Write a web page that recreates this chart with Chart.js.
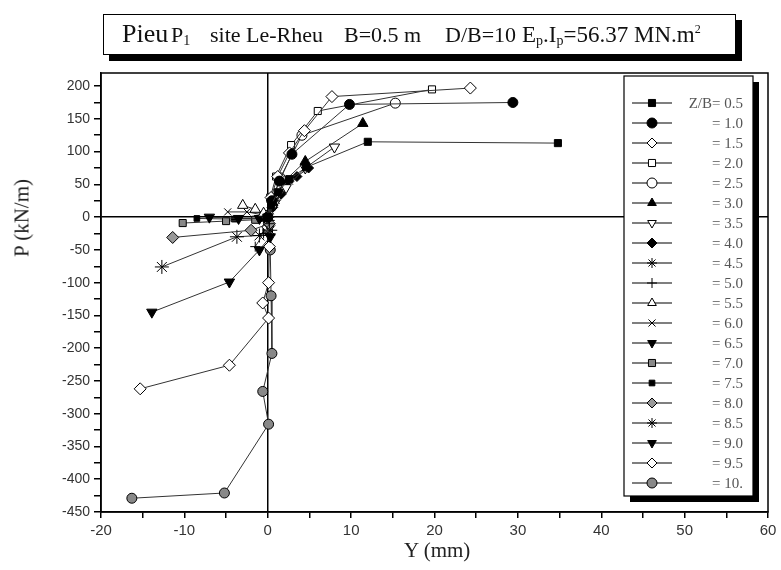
<!DOCTYPE html>
<html>
<head>
<meta charset="utf-8">
<script src="https://cdn.jsdelivr.net/npm/chart.js@4.4.0/dist/chart.umd.min.js"></script>
<style>
  html, body { margin: 0; padding: 0; background: #fff; }
  #wrap { position: relative; width: 781px; height: 570px; }
  #title {
    position: absolute; left: 103px; top: 14px; width: 633px; height: 41px;
    border: 1.5px solid #000; background: #fff; box-shadow: 6px 6px 0 #000;
    font-family: "Liberation Serif", "DejaVu Serif", serif; font-size: 22px; color: #111;
    white-space: nowrap; box-sizing: border-box;
  }
  #title span { position: absolute; top: 0; line-height: 40px; }
  #title .big { font-size: 26px; top: -1px; }
  #title sub { font-size: 14px; vertical-align: -3px; line-height: 0; }
  #title sup { font-size: 12px; vertical-align: 9px; line-height: 0; }
  .axt { position: absolute; font-family: "Liberation Serif", "DejaVu Serif", serif; font-size: 21px; color: #222; white-space: nowrap; }
  #xt { left: 404px; top: 538px; }
  #yt { left: 22px; top: 218px; transform: translate(-50%, -50%) rotate(-90deg); }
</style>
</head>
<body>
<div id="wrap">
  <canvas id="c" width="781" height="570"></canvas>
  <div id="title"><span class="big" style="left:18px">Pieu</span><span style="left:67px">P<sub>1</sub></span><span style="left:106px">site Le-Rheu</span><span style="left:240px">B=0.5 m</span><span style="left:341px">D/B=10</span><span style="left:418px; font-size:23px">E<sub>p</sub>.I<sub>p</sub>=56.37 MN.m<sup>2</sup></span></div>
  <div class="axt" id="xt">Y (mm)</div>
  <div class="axt" id="yt">P (kN/m)</div>
</div>
<script>
// [Y (mm), P (kN/m)] pairs, one list per depth Z/B
const zb05 = [[0, 0], [0.4, 18], [1.2, 38], [2.6, 58], [4.6, 76], [12.0, 115], [34.8, 113]];
const zb10 = [[0, 0], [0.5, 25], [1.4, 55], [2.9, 96], [9.8, 172], [29.4, 175]];
const zb15 = [[0, 0], [0.4, 30], [1.2, 62], [2.6, 98], [4.4, 132], [7.7, 184], [24.3, 197]];
const zb20 = [[0, 0], [0.3, 30], [1.0, 62], [2.8, 110], [6.0, 162], [19.7, 195]];
const zb25 = [[0, 0], [0.5, 25], [1.5, 60], [4.1, 125], [15.3, 174]];
const zb30 = [[0, 0], [0.6, 22], [2.0, 55], [4.5, 85], [11.4, 143]];
const zb35 = [[0, 0], [0.8, 20], [2.2, 45], [4.5, 75], [8.0, 107]];
const zb40 = [[0, 0], [0.6, 15], [1.6, 35], [3.5, 62], [4.9, 75]];
const zb45 = [[0, 0], [0.3, 10], [1.0, 26], [2.0, 45], [2.6, 55]];
const zb50 = [[0, 0], [0.2, -10], [-0.5, -25], [-1.5, -45]];
const zb55 = [[0, 0], [-0.5, 6], [-1.5, 12], [-3.0, 18]];
const zb60 = [[0, 0], [-0.8, 4], [-2.5, 8], [-4.8, 8]];
const zb65 = [[0, 0], [-1.0, -2], [-3.5, -2], [-7.0, 0]];
const zb70 = [[0, 0], [-1.5, -4], [-5.0, -6], [-10.2, -9]];
const zb75 = [[0, 0], [-1.0, -2], [-4.0, -3], [-8.5, -2]];
const zb80 = [[0, 0], [0.2, -10], [-2.0, -20], [-11.4, -31]];
const zb85 = [[0, -5], [0.3, -20], [-1.0, -28], [-3.7, -30], [-12.7, -76]];
const zb90 = [[0, -10], [0.3, -30], [-1.0, -50], [-4.6, -99], [-13.9, -145]];
const zb95 = [[0, -15], [0.2, -45], [0.1, -100], [-0.6, -131], [0.1, -154], [-4.6, -226], [-15.3, -262]];
const zb100 = [[0, -20], [0.3, -50], [0.4, -120], [0.5, -208], [-0.6, -266], [0.1, -316], [-5.2, -421], [-16.3, -429]];

const seriesLabels = ['Z/B= 0.5', '= 1.0', '= 1.5', '= 2.0', '= 2.5', '= 3.0', '= 3.5', '= 4.0', '= 4.5', '= 5.0',
  '= 5.5', '= 6.0', '= 6.5', '= 7.0', '= 7.5', '= 8.0', '= 8.5', '= 9.0', '= 9.5', '= 10.'];
const xTicks = [-20, -15, -10, -5, 0, 5, 10, 15, 20, 25, 30, 35, 40, 45, 50, 55, 60];
const yTicks = [-450, -425, -400, -375, -350, -325, -300, -275, -250, -225, -200, -175, -150, -125, -100, -75, -50, -25,
  0, 25, 50, 75, 100, 125, 150, 175, 200];

const allSeries = [zb05, zb10, zb15, zb20, zb25, zb30, zb35, zb40, zb45, zb50,
  zb55, zb60, zb65, zb70, zb75, zb80, zb85, zb90, zb95, zb100];

// marker look per series: style, fill, rotation, radius
const markers = [
  ['rect', '#000', 0, 5], ['circle', '#000', 0, 5], ['rectRot', '#fff', 0, 6], ['rect', '#fff', 0, 5],
  ['circle', '#fff', 0, 5], ['triangle', '#000', 0, 6], ['triangle', '#fff', 180, 6], ['rectRot', '#000', 0, 5],
  ['star', '#000', 0, 5], ['cross', '#000', 0, 5], ['triangle', '#fff', 0, 6], ['crossRot', '#000', 0, 5],
  ['triangle', '#000', 180, 6], ['rect', '#888', 0, 5], ['rect', '#000', 0, 4], ['rectRot', '#999', 0, 6],
  ['star', '#000', 0, 7], ['triangle', '#000', 180, 6], ['rectRot', '#fff', 0, 6], ['circle', '#888', 0, 5]
];

const datasets = allSeries.map((s, i) => ({
  label: seriesLabels[i],
  data: s.map(p => ({ x: p[0], y: p[1] })),
  showLine: true,
  borderColor: '#333',
  borderWidth: 1,
  pointStyle: markers[i][0],
  pointBackgroundColor: markers[i][1],
  pointBorderColor: '#000',
  pointBorderWidth: 1,
  pointRotation: markers[i][2],
  pointRadius: markers[i][3],
  tension: 0
}));

const framePlugin = {
  id: 'frame',
  afterDraw(chart) {
    const ctx = chart.ctx;
    const a = chart.chartArea;
    ctx.save();
    ctx.strokeStyle = '#000';
    ctx.lineWidth = 1.5;
    ctx.strokeRect(a.left, a.top, a.right - a.left, a.bottom - a.top);

    // legend box with shadow
    const bx = 624, by = 76, bw = 129, bh = 420;
    ctx.fillStyle = '#000';
    ctx.fillRect(bx + 6, by + 6, bw, bh);
    ctx.fillStyle = '#fff';
    ctx.fillRect(bx, by, bw, bh);
    ctx.lineWidth = 1.2;
    ctx.strokeRect(bx, by, bw, bh);

    ctx.font = '15px "Liberation Serif", serif';
    ctx.textAlign = 'right';
    ctx.textBaseline = 'middle';
    chart.data.datasets.forEach((ds, i) => {
      const y = 103 + i * 20;
      ctx.strokeStyle = '#000';
      ctx.lineWidth = 1.2;
      ctx.beginPath();
      ctx.moveTo(632, y);
      ctx.lineTo(672, y);
      ctx.stroke();
      ctx.fillStyle = ds.pointBackgroundColor;
      ctx.lineWidth = 1;
      Chart.helpers.drawPoint(ctx, {
        pointStyle: ds.pointStyle, rotation: ds.pointRotation,
        radius: Math.min(ds.pointRadius, 5), borderWidth: 1
      }, 652, y);
      ctx.fillStyle = '#555';
      ctx.fillText(ds.label, 743, y + 1);
    });
    ctx.restore();
  }
};

const tickFont = { family: '"Liberation Sans", Arial, sans-serif', size: 14 };

new Chart(document.getElementById('c'), {
  type: 'scatter',
  data: { datasets: datasets },
  options: {
    responsive: false,
    animation: false,
    layout: { padding: { left: 0, right: 13, top: 73, bottom: 0 } },
    plugins: { legend: { display: false }, tooltip: { enabled: false } },
    scales: {
      x: {
        type: 'linear', min: -20, max: 60,
        afterBuildTicks: s => { s.ticks = xTicks.map(v => ({ value: v })); },
        afterFit: s => { s.height = 58; },
        ticks: {
          autoSkip: false, maxRotation: 0, padding: 4, color: '#333', font: { ...tickFont, size: 15 },
          callback: v => (v % 10 === 0 ? v : '')
        },
        grid: {
          color: c => (c.tick && c.tick.value === 0 ? '#000' : 'rgba(0,0,0,0)'),
          lineWidth: 1.5, tickColor: '#000', tickLength: 6
        },
        border: { color: '#000', width: 1.5 }
      },
      y: {
        type: 'linear', min: -450, max: 220,
        afterBuildTicks: s => { s.ticks = yTicks.map(v => ({ value: v })); },
        afterFit: s => { s.width = 101; },
        ticks: {
          autoSkip: false, padding: 4, color: '#333', font: tickFont,
          callback: v => (v % 50 === 0 ? v : '')
        },
        grid: {
          color: c => (c.tick && c.tick.value === 0 ? '#000' : 'rgba(0,0,0,0)'),
          lineWidth: 1.5, tickColor: '#000', tickLength: 7
        },
        border: { color: '#000', width: 1.5 }
      }
    }
  },
  plugins: [framePlugin]
});
</script>
</body>
</html>
